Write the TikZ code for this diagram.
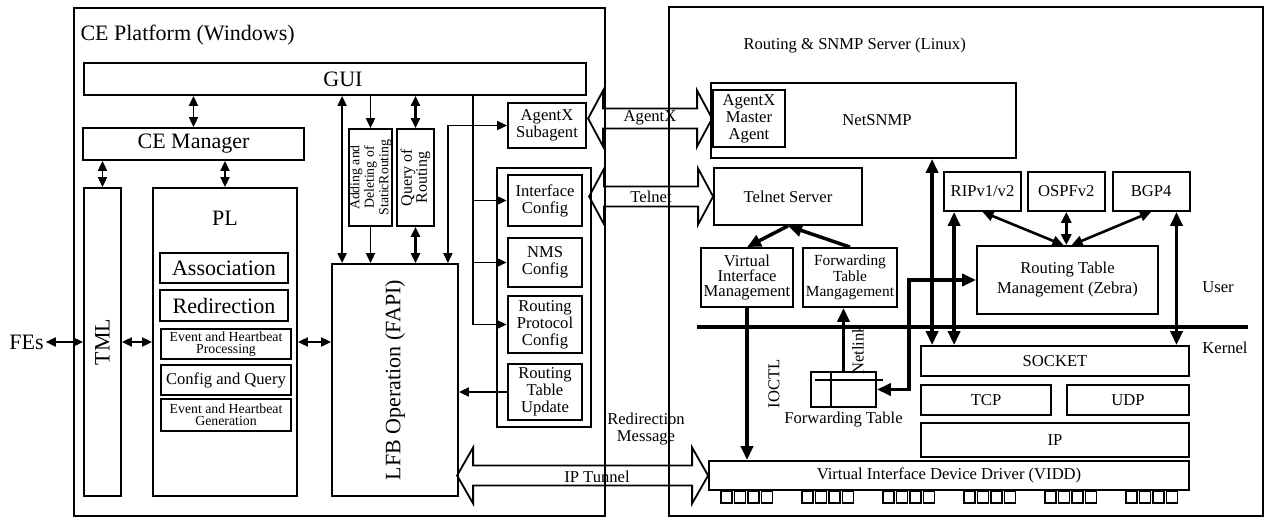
\documentclass[tikz,border=0pt]{standalone}
\usepackage{fontspec}
\setmainfont{Liberation Serif}
\usepackage{tikz}
\usetikzlibrary{arrows.meta, positioning, calc}

\begin{document}
\begin{tikzpicture}[
        x=1pt, y=-1pt,
        font=\fontsize{16.6}{17}\selectfont,
        >={Triangle[length=10pt,width=9pt]},
        bigf/.style={font=\fontsize{22}{24}\selectfont},
        smlf/.style={font=\fontsize{13.8}{12.5}\selectfont},
        platform/.style={draw, line width=1.6pt, inner sep=0pt},
        box/.style={draw, line width=1.8pt, align=center, inner sep=1pt},
        tbox/.style={box, line width=2.8pt},
        lnk/.style={line width=1.8pt},
        semifat/.style={line width=2.6pt, >={Triangle[length=11pt,width=10pt]}},
        fat/.style={line width=3.5pt, >={Triangle[length=14pt,width=12pt]}},
        blk/.style={draw, line width=1.8pt, line join=miter}
    ]
        \useasboundingbox (0,0) rectangle (1266,517);

        % --- CE Platform ---
        \node[platform, minimum width=531, minimum height=508] (ceplat) at (339.5,262) {};
        \node[bigf, anchor=west] (cetitle) at (77,35) {CE Platform (Windows)};
        \node[box, bigf, minimum width=502, minimum height=32] (gui) at (335,79) {\hspace*{16pt}GUI};
        \node[box, bigf, minimum width=221, minimum height=32] (cemgr) at (193.5,144) {CE Manager};
        \node[box, minimum width=37, minimum height=308, label={[bigf, rotate=90]center:TML}] (tml) at (102.5,342) {};
        \node[box, minimum width=144, minimum height=308] (pl) at (225,342) {};
        \node[bigf, below=20pt of pl.north] (pltitle) {PL};
        \node[tbox, bigf, minimum width=128, minimum height=30] (assoc) at (224,268) {Association};
        \node[tbox, bigf, minimum width=128, minimum height=31] (redir) at (224,305.5) {Redirection};
        \node[box, smlf, line width=2.4pt, minimum width=130, minimum height=30] (evproc) at (226,344) {Event and Heartbeat\\Processing};
        \node[box, line width=2.4pt, minimum width=130, minimum height=30] (cfgq) at (226,380) {Config and Query};
        \node[box, smlf, line width=2.4pt, minimum width=130, minimum height=32] (evgen) at (226,415) {Event and Heartbeat\\Generation};
        \node[bigf, inner sep=2pt] (fes) at (26.5,342) {FEs};

        \node[box, minimum width=126, minimum height=232, label={[bigf, rotate=90]center:LFB Operation (FAPI)}] (lfb) at (395,380) {};
        \node[box, minimum width=43, minimum height=97, label={[rotate=90, align=center, font=\fontsize{13.8}{14.5}\selectfont]center:{Adding and\\Deleting of\\StaticRouting}}] (addrt) at (370.5,177.5) {};
        \node[box, minimum width=37, minimum height=97, label={[rotate=90, align=center, font=\fontsize{16}{15}\selectfont]center:{Query of\\Routing}}] (qryrt) at (415.5,177.5) {};

        \node[box, minimum width=78, minimum height=45] (subag) at (547,125.5) {AgentX\\Subagent};
        \node[tbox, minimum width=94, minimum height=259] (cfggrp) at (544,297.5) {};
        \node[tbox, minimum width=74, minimum height=51] (ifcfg) at (545,200.5) {Interface\\Config};
        \node[tbox, minimum width=74, minimum height=49] (nmscfg) at (545,262.5) {NMS\\Config};
        \node[tbox, minimum width=74, minimum height=57] (rpcfg) at (545,324.5) {Routing\\Protocol\\Config};
        \node[tbox, minimum width=74, minimum height=56] (rtupd) at (545,392) {Routing\\Table\\Update};

        \draw[lnk,<->] (gui.south -| cemgr.north) -- (cemgr.north);
        \draw[lnk,<->] (tml.north) -- (tml.north |- cemgr.south);
        \draw[lnk,<->] (pl.north) -- (pl.north |- cemgr.south);
        \draw[lnk,<->] (fes) -- (tml);
        \draw[lnk,<->] (tml) -- (pl);
        \draw[lnk,<->] (pl) -- (lfb.west |- pl.east);
        \draw[lnk,<->] ([xshift=11pt]lfb.north west) -- ([xshift=11pt]lfb.north west |- gui.south);
        \draw[lnk,->] (gui.south -| addrt.north) -- (addrt.north);
        \draw[lnk,->] (addrt.south) -- (addrt.south |- lfb.north);
        \draw[lnk,line width=2.4pt,<->] (gui.south -| qryrt.north) -- (qryrt.north);
        \draw[lnk,line width=2.4pt,<->] (qryrt.south) -- (qryrt.south |- lfb.north);
        \draw[lnk,<->] ([xshift=-11pt]lfb.north east) |- (subag.west);
        \coordinate (bus) at ([xshift=-114pt]gui.south east);
        \draw[lnk,->] (bus) |- (rpcfg.west);
        \draw[lnk,->] (bus |- ifcfg.west) -- (ifcfg.west);
        \draw[lnk,->] (bus |- nmscfg.west) -- (nmscfg.west);
        \draw[lnk,->] (rtupd.west) -- (rtupd.west -| lfb.east);

        % --- Routing & SNMP Server ---
        \node[platform, minimum width=594, minimum height=509] (srv) at (966,261.5) {};
        \node[anchor=west] (srvtitle) at (740,46) {Routing \& SNMP Server (Linux)};
        \node[box, minimum width=305, minimum height=75] (netsnmp) at (863.5,120.5) {};
        \node (snmptxt) at (877,120) {NetSNMP};
        \node[box, minimum width=72, minimum height=57] (mstag) at (749,118.5) {AgentX\\Master\\Agent};
        \node[box, minimum width=148, minimum height=57] (telsrv) at (788,196.5) {Telnet Server};
        \node[box, minimum width=92, minimum height=59, font=\fontsize{16.6}{15}\selectfont] (vim) at (747,277.5) {Virtual\\Interface\\Management};
        \node[box, minimum width=94, minimum height=59, font=\fontsize{15.4}{15.5}\selectfont] (ftm) at (850,277.5) {Forwarding\\Table\\Mangagement};
        \node[box, minimum width=77, minimum height=39] (rip) at (982.5,191.5) {RIPv1/v2};
        \node[box, minimum width=77, minimum height=39, right=5pt of rip] (ospf) {OSPFv2};
        \node[box, minimum width=77, minimum height=39, right=6pt of ospf] (bgp) {BGP4};
        \node[box, minimum width=181, minimum height=68, font=\fontsize{16.6}{20}\selectfont] (rtm) at (1067.5,280) {Routing Table\\Management (Zebra)};
        \node (usertxt) at (1218,287) {User};
        \node (kerneltxt) at (1225,348) {Kernel};
        \draw[line width=4.5pt] (697,327) -- (1248,327);

        \node[box, minimum width=268, minimum height=30] (socket) at (1055,361) {SOCKET};
        \node[box, minimum width=130, minimum height=30] (tcp) at (986,400) {TCP};
        \node[box, minimum width=122, minimum height=30] (udp) at (1128,400) {UDP};
        \node[box, minimum width=268, minimum height=34] (ip) at (1055,440) {IP};
        \node[box, minimum width=480, minimum height=29] (vidd) at (949,475.5) {Virtual Interface Device Driver (VIDD)};
        \foreach \g in {0,...,5}
            \foreach \s in {0,...,3}
                \draw[line width=1.5pt] ([xshift=13pt+\g*81pt+\s*13.5pt]vidd.south west) rectangle ++(11,12);

        \node[box, minimum width=65, minimum height=35] (ftable) at (843.5,389.5) {};
        \draw[lnk] ([xshift=5pt,yshift=-9pt]ftable.north west) -- ([xshift=6pt,yshift=-9pt]ftable.north east);
        \draw[lnk] ([xshift=21pt]ftable.north west) -- ([xshift=21pt]ftable.south west);
        \node[below=1pt of ftable] (fttxt) {Forwarding Table};

        \draw[fat,->] (telsrv.south) -- (vim.north);
        \draw[fat,->] (ftm.north) -- (telsrv.south);
        \draw[fat,->] (vim.south) -- (vim.south |- vidd.north);
        \node[rotate=90] (ioctl) at (774,384) {IOCTL};
        \draw[fat,->] (ftable.north) -- (ftable.north |- ftm.south);
        \node[rotate=90] (netlink) at (858,350) {Netlink};
        \draw[fat,<->] (rtm.west) -| ([xshift=32pt]ftable.east) -- (ftable.east);
        \draw[fat,<->] ([xshift=12pt]socket.north west) -- ([xshift=12pt]socket.north west |- netsnmp.south);
        \draw[fat,<->] ([xshift=11pt]rip.south west) -- ([xshift=11pt]rip.south west |- socket.north);
        \draw[fat,<->] ([xshift=-14pt]bgp.south east) -- ([xshift=-14pt]bgp.south east |- socket.north);
        \draw[semifat,<->] (rip.south) -- ([xshift=-4pt]rtm.north);
        \draw[semifat,<->] (ospf.south) -- (ospf.south |- rtm.north);
        \draw[semifat,<->] (bgp.south) -- ([xshift=4pt]rtm.north);

        % --- Links between the two machines ---
        \draw[blk] (mstag.west) -- ++(-15,-28) -- ++(0,18) -- ++(-94,0) -- ++(0,-18) -- ++(-15,28)
            -- ++(15,28) -- ++(0,-18) -- ++(94,0) -- ++(0,18) -- cycle;
        \node (axlbl) at (650,118) {AgentX};
        \draw[blk] (telsrv.west) -- ++(-15,-28) -- ++(0,18) -- ++(-94,0) -- ++(0,-18) -- ++(-15,28)
            -- ++(15,28) -- ++(0,-18) -- ++(94,0) -- ++(0,18) -- cycle;
        \node (tnlbl) at (651,197) {Telnet};
        \draw[blk] (vidd.west) -- ++(-16,-28) -- ++(0,18) -- ++(-219,0) -- ++(0,-18) -- ++(-16,28)
            -- ++(16,28) -- ++(0,-18) -- ++(219,0) -- ++(0,18) -- cycle;
        \node (iplbl) at (597,477) {IP Tunnel};
        \node[align=center] (redirlbl) at (646,429) {Redirection\\Message};
    \end{tikzpicture}
\end{document}
